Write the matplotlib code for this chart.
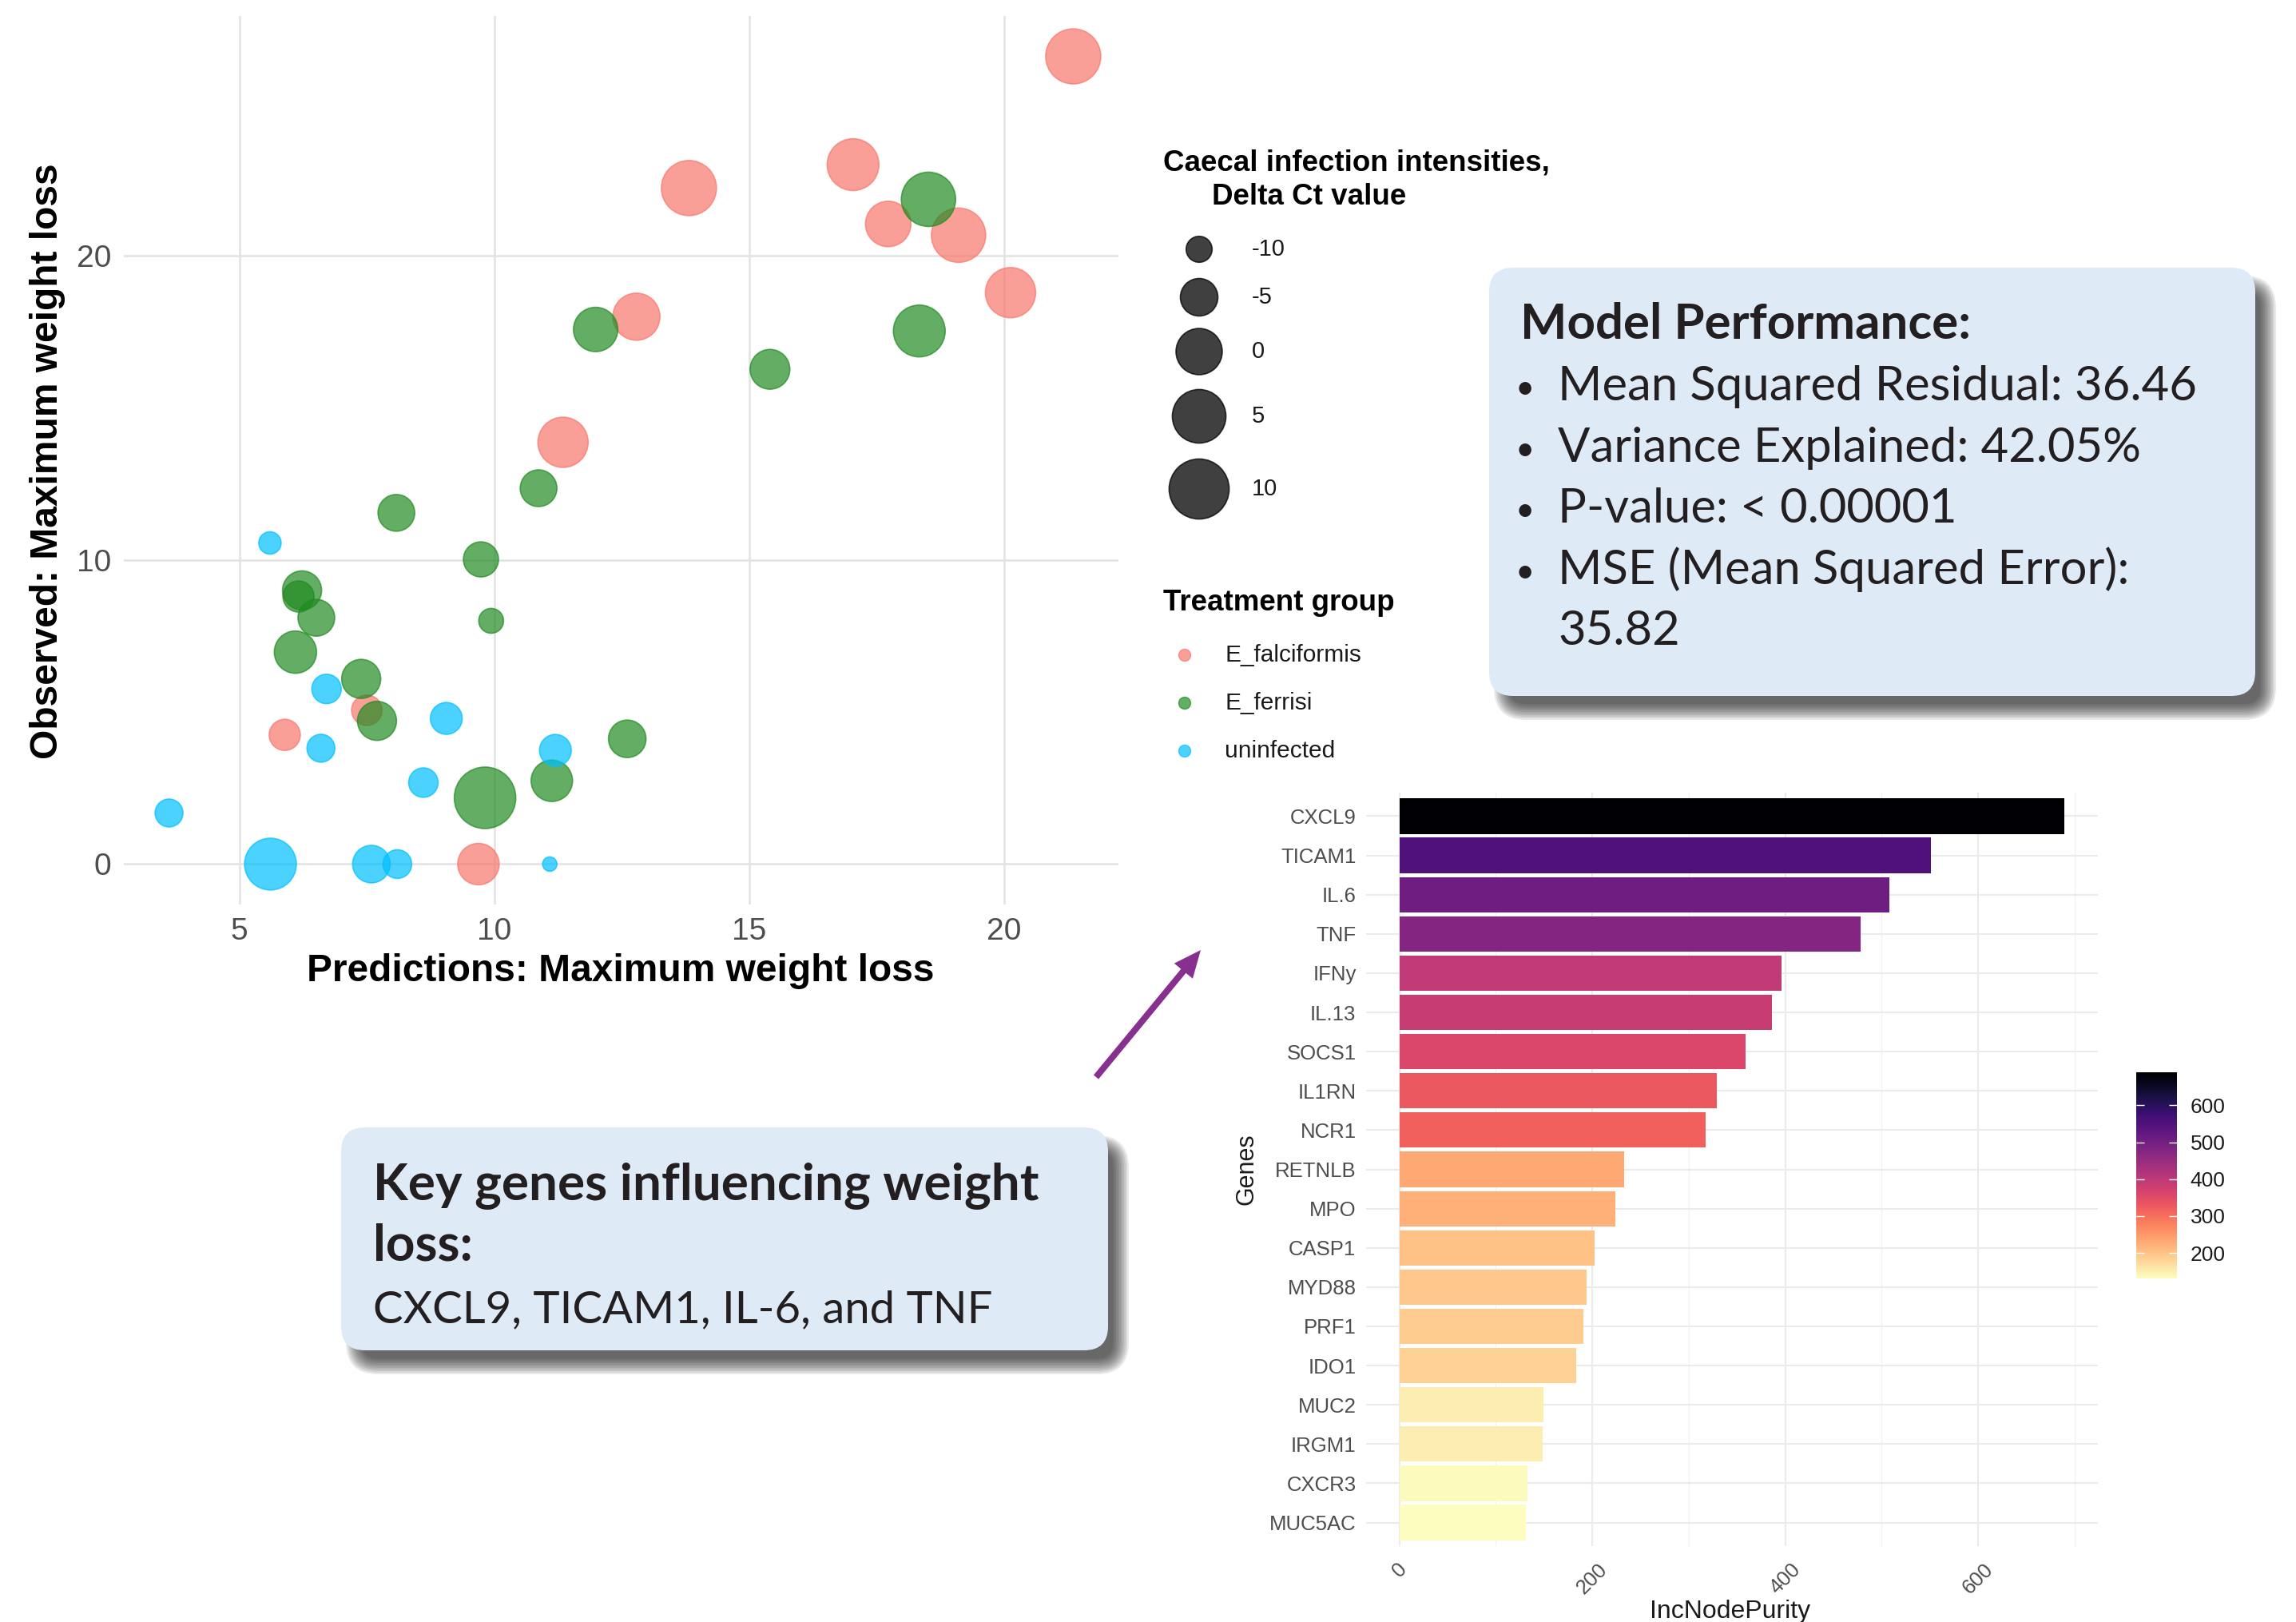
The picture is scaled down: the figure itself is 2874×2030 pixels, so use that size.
import numpy as np
import matplotlib.pyplot as plt
from matplotlib.patches import FancyBboxPatch
from matplotlib import colors, cm

plt.rcParams['font.family'] = 'Liberation Sans'

W, H, DPI = 2874, 2030, 100

# random forest predictions vs observed maximum weight loss, per treatment group
falc_pred = [21.36, 17.04, 13.82, 17.73, 19.11, 20.13, 12.79, 11.35, 7.50, 5.89, 9.69]
falc_obs = [26.56, 23.00, 22.23, 21.05, 20.68, 18.79, 18.00, 13.87, 5.06, 4.25, 0.0]
falc_ct = [6.1, 3.7, 6.1, -0.5, 5.5, 2.6, 0.5, 2.6, -8.3, -8.0, -2.9]

ferr_pred = [18.52, 18.34, 11.99, 15.41, 10.87, 8.08, 9.74, 9.94, 6.23, 6.16, 6.51, 6.10,
             7.39, 7.70, 12.61, 11.13, 9.82]
ferr_obs = [21.86, 17.53, 17.58, 16.27, 12.36, 11.55, 10.02, 8.00, 9.00, 8.80, 8.10, 6.97,
            6.09, 4.71, 4.12, 2.74, 2.18]
ferr_ct = [5.5, 3.7, -1.2, -3.8, -5.4, -5.4, -6.2, -10.4, -4.2, -8.0, -5.4, -2.4,
           -4.2, -4.2, -5.0, -2.9, 11.2]

uninf_pred = [5.60, 6.71, 9.06, 6.60, 11.20, 8.61, 3.62, 5.61, 7.59, 8.10, 11.09]
uninf_obs = [10.56, 5.76, 4.79, 3.81, 3.74, 2.68, 1.68, 0.0, 0.0, 0.0, 0.0]
uninf_ct = [-11.2, -8.7, -7.7, -9.3, -7.7, -8.7, -9.3, 3.7, -5.0, -9.0, -13.2]

group_names = ['E_falciformis', 'E_ferrisi', 'uninfected']
group_colors = ['#F8766D', '#228B22', '#00BFFF']
size_breaks = [-10, -5, 0, 5, 10]

# variable importance
genes = ['CXCL9', 'TICAM1', 'IL.6', 'TNF', 'IFNy', 'IL.13', 'SOCS1', 'IL1RN', 'NCR1',
         'RETNLB', 'MPO', 'CASP1', 'MYD88', 'PRF1', 'IDO1', 'MUC2', 'IRGM1', 'CXCR3', 'MUC5AC']
purity = [689.5, 551.3, 507.6, 477.8, 396.4, 386.2, 358.5, 328.7, 317.8,
          232.7, 224.0, 202.2, 194.2, 190.5, 183.3, 149.1, 148.4, 133.1, 130.9]

perf_lines = ['Mean Squared Residual: 36.46', 'Variance Explained: 42.05%',
              'P-value: < 0.00001', 'MSE (Mean Squared Error):']
perf_extra = '35.82'


def px_box(left, top, right, bottom):
    return [left / W, 1 - bottom / H, (right - left) / W, (bottom - top) / H]


all_ct = np.array(falc_ct + ferr_ct + uninf_ct)
ct_lo, ct_hi = all_ct.min(), all_ct.max()
d_lo, d_hi = 18.0, 77.0  # marker diameter range in px


def marker_area(ct):
    # area grows linearly with Delta Ct, like scale_size
    ct = np.asarray(ct, dtype=float)
    area_px = d_lo ** 2 + (ct - ct_lo) / (ct_hi - ct_lo) * (d_hi ** 2 - d_lo ** 2)
    return area_px * (72.0 / DPI) ** 2


fig = plt.figure(figsize=(W / DPI, H / DPI), dpi=DPI)

# ---- scatter: predicted vs observed
ax = fig.add_axes(px_box(155, 20, 1400, 1132))
series = [(falc_pred, falc_obs, falc_ct), (ferr_pred, ferr_obs, ferr_ct),
          (uninf_pred, uninf_obs, uninf_ct)]
for (px, py, pc), col in zip(series, group_colors):
    ax.scatter(px, py, s=marker_area(pc), color=col, alpha=0.7,
               edgecolors=col, linewidths=1.2, zorder=3)

xs = np.array(falc_pred + ferr_pred + uninf_pred)
ys = np.array(falc_obs + ferr_obs + uninf_obs)
xpad = 0.05 * (xs.max() - xs.min())
ypad = 0.05 * (ys.max() - ys.min())
ax.set_xlim(xs.min() - xpad, xs.max() + xpad)
ax.set_ylim(ys.min() - ypad, ys.max() + ypad)
ax.set_xticks([5, 10, 15, 20])
ax.set_yticks([0, 10, 20])
ax.grid(True, color='#E3E3E3', lw=1.9)
ax.set_axisbelow(True)
for s in ax.spines.values():
    s.set_visible(False)
ax.tick_params(length=0, labelsize=28, labelcolor='#4D4D4D', pad=11.5)

# ---- bar chart of gene importance
bx = fig.add_axes(px_box(1710, 992, 2626, 1935))
norm = colors.Normalize(min(purity), max(purity))
cmap = plt.get_cmap('magma_r')
ypos = np.arange(len(genes))
bx.barh(ypos, purity, height=0.9, color=cmap(norm(purity)), zorder=3)
bx.set_ylim(len(genes) - 0.4, -0.6)
bx.set_xlim(-0.05 * max(purity), 1.05 * max(purity))
bx.set_yticks(ypos)
bx.set_yticklabels(genes)
bx.set_xticks([0, 200, 400, 600])
bx.set_xticks([100, 300, 500, 700], minor=True)
bx.grid(True, which='major', color='#EBEBEB', lw=1.5)
bx.grid(True, which='minor', axis='x', color='#F2F2F2', lw=0.9)
bx.set_axisbelow(True)
for s in bx.spines.values():
    s.set_visible(False)
bx.tick_params(which='both', length=0, labelsize=18.5, labelcolor='#4D4D4D')
bx.tick_params(axis='y', pad=9)
bx.tick_params(axis='x', pad=12)
for lab in bx.get_xticklabels():
    lab.set_rotation(45)
    lab.set_ha('center')
    lab.set_va('top')

cax = fig.add_axes(px_box(2674, 1342, 2725, 1600))
cb = fig.colorbar(cm.ScalarMappable(norm=norm, cmap=cmap), cax=cax)
cb.outline.set_visible(False)
cb.set_ticks([200, 300, 400, 500, 600])
cax.tick_params(left=True, right=True, labelleft=False, labelright=True,
                direction='in', length=7, width=1, color='white',
                labelsize=19, labelcolor='#1A1A1A', pad=12)

# ---- overlay in pixel coordinates: titles, legends, callouts
ov = fig.add_axes([0, 0, 1, 1], facecolor='none')
ov.set_xlim(0, W)
ov.set_ylim(H, 0)
ov.axis('off')

ov.text(777, 1215, 'Predictions: Maximum weight loss', fontsize=34.5, fontweight='bold',
        ha='center', va='center')
ov.text(60, 577, 'Observed: Maximum weight loss', fontsize=34.5, fontweight='bold',
        ha='center', va='center', rotation=90)
ov.text(1561, 1463, 'Genes', fontsize=22, ha='center', va='center', rotation=90,
        color='#1A1A1A')
ov.text(2166, 2017, 'IncNodePurity', fontsize=23, ha='center', va='center', color='#1A1A1A')

# size legend
ov.text(1456, 204, 'Caecal infection intensities,', fontsize=26.5, fontweight='bold',
        ha='left', va='center')
ov.text(1517, 246, 'Delta Ct value', fontsize=26.5, fontweight='bold',
        ha='left', va='center')
key_y = [312, 372, 440, 521, 612]
ov.scatter([1501] * len(size_breaks), key_y, s=marker_area(size_breaks), color='black',
           alpha=0.75, edgecolors='black', linewidths=1.2)
for yk, b in zip(key_y, size_breaks):
    ov.text(1567, yk, str(b), fontsize=21, ha='left', va='center', color='#1A1A1A')

# colour legend
ov.text(1456, 755, 'Treatment group', fontsize=26.5, fontweight='bold', ha='left', va='center')
grp_y = [820, 880, 940]
ov.scatter([1483] * 3, grp_y, s=(15 * 72.0 / DPI) ** 2, color=group_colors, alpha=0.7,
           edgecolors=group_colors, linewidths=1)
for yk, name in zip(grp_y, group_names):
    ov.text(1533, yk, name, fontsize=21.5, ha='left', va='center', color='#1A1A1A')


def callout_box(x0, y0, x1, y1, r=30, dx=16, dy=20):
    # soft drop shadow built from stacked translucent rounded boxes
    for g in range(-10, 11, 2):
        ov.add_patch(FancyBboxPatch((x0 + dx - g, y0 + dy - g), x1 - x0 + 2 * g, y1 - y0 + 2 * g,
                                    boxstyle=f'round,pad=0,rounding_size={max(r + g, 2)}',
                                    facecolor='#1A1A1A', edgecolor='none', alpha=0.09))
    ov.add_patch(FancyBboxPatch((x0, y0), x1 - x0, y1 - y0,
                                boxstyle=f'round,pad=0,rounding_size={r}',
                                facecolor='#DEEBF7', edgecolor='none'))


box_font = 'Lato'
ink = '#231F20'

callout_box(1864, 335, 2823, 871)
ov.text(1903, 424, 'Model Performance:', fontsize=44.5, fontweight='bold', family=box_font,
        color=ink, va='baseline')
for i, line in enumerate(perf_lines):
    yb = 501 + i * 76.6
    ov.text(1909, yb - 2, '\u2022', fontsize=30, family=box_font, color=ink, ha='center',
            va='baseline')
    ov.text(1950, yb, line, fontsize=43, family=box_font, color=ink, va='baseline')
ov.text(1950, 501 + 4 * 76.6, perf_extra, fontsize=43, family=box_font, color=ink, va='baseline')

callout_box(427, 1411, 1387, 1690)
ov.text(467, 1501, 'Key genes influencing weight', fontsize=46, fontweight='bold',
        family=box_font, color=ink, va='baseline')
ov.text(467, 1578, 'loss:', fontsize=46, fontweight='bold', family=box_font, color=ink,
        va='baseline')
ov.text(467, 1655, 'CXCL9, TICAM1, IL-6, and TNF', fontsize=40.5, family=box_font, color=ink,
        va='baseline')

ov.arrow(1372, 1348, 1503 - 1372, 1189 - 1348, width=8, head_width=30, head_length=34,
         length_includes_head=True, color='#88308F', lw=0)

fig.savefig('out.png', dpi=DPI)
